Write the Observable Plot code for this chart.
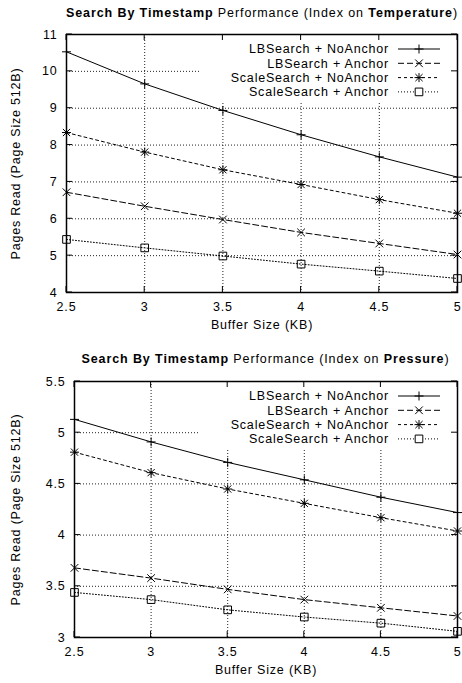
<!DOCTYPE html>
<html><head><meta charset="utf-8">
<script src="https://cdn.jsdelivr.net/npm/d3@7"></script>
<script src="https://cdn.jsdelivr.net/npm/@observablehq/plot@0.6"></script>
<style>
body{margin:0;background:#fff;font-family:"Liberation Sans",Arial,Helvetica,sans-serif;}
#wrap{position:relative;width:462px;height:683px;overflow:hidden;}
.chart{position:absolute;left:0;}
.title{position:absolute;text-align:center;font-size:12.5px;letter-spacing:0.9px;line-height:14px;color:#000;white-space:nowrap;}
</style></head><body>
<div id="wrap">
<div id="c1" class="chart" style="top:0px"></div>
<div id="c2" class="chart" style="top:340px"></div>
<div class="title" style="top:6px;left:66px;width:391px"><b>Search By Timestamp</b> Performance (Index on <b>Temperature</b>)</div>
<div class="title" style="top:352px;left:74px;width:383px"><b>Search By Timestamp</b> Performance (Index on <b>Pressure</b>)</div>
</div>
<script>
// ---- data ----
const bufferKB = [2.5, 3, 3.5, 4, 4.5, 5];
const seriesNames = ["LBSearch + NoAnchor", "LBSearch + Anchor", "ScaleSearch + NoAnchor", "ScaleSearch + Anchor"];

const tempLBNoAnchor    = [10.53, 9.66, 8.94, 8.28, 7.68, 7.13];
const tempLBAnchor      = [6.72, 6.34, 5.98, 5.63, 5.33, 5.03];
const tempScaleNoAnchor = [8.34, 7.81, 7.33, 6.93, 6.52, 6.15];
const tempScaleAnchor   = [5.44, 5.21, 4.99, 4.77, 4.58, 4.38];

const presLBNoAnchor    = [5.13, 4.91, 4.71, 4.54, 4.37, 4.22];
const presLBAnchor      = [3.68, 3.58, 3.47, 3.37, 3.29, 3.21];
const presScaleNoAnchor = [4.81, 4.61, 4.45, 4.31, 4.17, 4.04];
const presScaleAnchor   = [3.44, 3.37, 3.27, 3.20, 3.14, 3.06];

const xTicks = [2.5, 3, 3.5, 4, 4.5, 5];
const tempYTicks = [4, 5, 6, 7, 8, 9, 10, 11];
const presYTicks = [3, 3.5, 4, 4.5, 5, 5.5];

const xLabel = "Buffer Size (KB)";
const yLabel = "Pages Read (Page Size 512B)";

// ---- symbols ----
const rad = size => Math.sqrt(size / Math.PI);
const symPlus = {draw(c, s){const r = rad(s); c.moveTo(-r,0); c.lineTo(r,0); c.moveTo(0,-r); c.lineTo(0,r);}};
const symTimes = {draw(c, s){const r = rad(s)*0.85; c.moveTo(-r,-r); c.lineTo(r,r); c.moveTo(-r,r); c.lineTo(r,-r);}};
const symAst = {draw(c, s){const r = rad(s); const q = r*0.8; c.moveTo(-r,0); c.lineTo(r,0); c.moveTo(0,-r); c.lineTo(0,r); c.moveTo(-q,-q); c.lineTo(q,q); c.moveTo(-q,q); c.lineTo(q,-q);}};
const symSquare = {draw(c, s){const r = rad(s)*0.85; c.rect(-r,-r,2*r,2*r);}};

const styles = [
  {dash: null, sym: symPlus},
  {dash: "6,3", sym: symTimes},
  {dash: "3,3", sym: symAst},
  {dash: "1,2", sym: symSquare}
];
const markerR = 4.5;
const FS = 12.5;

function makeChart(series, yDomain, yTicks, marginLeft, marginTop, marginBottom, height) {
  const rows = [];
  series.forEach((vals, j) => bufferKB.forEach((x, i) => rows.push({x, y: vals[i], s: j})));

  const boxMark = (index, scales, values, dims) => {
    const right = dims.width - dims.marginRight, top = dims.marginTop;
    const g = d3.create("svg:g");
    g.append("rect").attr("x", right - 257).attr("y", top).attr("width", 257).attr("height", 67).attr("fill", "white");
    return g.node();
  };
  const tickMark = (index, scales, values, dims) => {
    const left = dims.marginLeft, right = dims.width - dims.marginRight;
    const top = dims.marginTop, bottom = dims.height - dims.marginBottom;
    const g = d3.create("svg:g").attr("stroke", "#000").attr("stroke-width", 1);
    const L = 6;
    for (const t of xTicks) {
      const x = scales.x(t);
      g.append("line").attr("x1", x).attr("x2", x).attr("y1", bottom).attr("y2", bottom - L);
      g.append("line").attr("x1", x).attr("x2", x).attr("y1", top).attr("y2", top + L);
    }
    for (const t of yTicks) {
      const y = scales.y(t);
      g.append("line").attr("y1", y).attr("y2", y).attr("x1", left).attr("x2", left + L);
      g.append("line").attr("y1", y).attr("y2", y).attr("x1", right).attr("x2", right - L);
    }
    return g.node();
  };
  const legendMark = (index, scales, values, dims) => {
    const right = dims.width - dims.marginRight, top = dims.marginTop;
    const g = d3.create("svg:g");
    seriesNames.forEach((name, j) => {
      const y = top + 15 + j * 14.3;
      g.append("text").attr("x", right - 68).attr("y", y).attr("dy", "0.35em")
        .attr("text-anchor", "end").attr("font-size", FS).attr("fill", "#000").text(name);
      const ln = g.append("line").attr("x1", right - 59).attr("x2", right - 17).attr("y1", y).attr("y2", y)
        .attr("stroke", "#000").attr("stroke-width", 1);
      if (styles[j].dash) ln.attr("stroke-dasharray", styles[j].dash);
      g.append("path").attr("transform", `translate(${right - 38},${y})`)
        .attr("d", d3.symbol(styles[j].sym, Math.PI * markerR * markerR)())
        .attr("fill", j === 3 ? "white" : "none").attr("stroke", "#000").attr("stroke-width", 1);
    });
    return g.node();
  };

  const marks = [
    Plot.gridX(xTicks, {stroke: "#222", strokeOpacity: 1, strokeDasharray: "1,2"}),
    Plot.gridY(yTicks, {stroke: "#222", strokeOpacity: 1, strokeDasharray: "1,2"}),
    boxMark,
    tickMark,
    Plot.frame({stroke: "#000", strokeWidth: 1.5})
  ];
  styles.forEach((st, j) => {
    const d = rows.filter(r => r.s === j);
    marks.push(Plot.line(d, {x: "x", y: "y", stroke: "#000", strokeWidth: 1, strokeDasharray: st.dash || undefined}));
    marks.push(Plot.dot(d, {x: "x", y: "y", symbol: st.sym, r: markerR, stroke: "#000", fill: "none", strokeWidth: 1}));
  });
  marks.push(legendMark);
  marks.push(Plot.axisX(xTicks, {tickSize: 0, tickPadding: 10, fontSize: FS, label: null, tickFormat: d => String(d)}));
  marks.push(Plot.axisY(yTicks, {tickSize: 0, tickPadding: 9, fontSize: FS, label: null, tickFormat: d => String(d)}));
  marks.push(Plot.text([xLabel], {frameAnchor: "bottom", dy: 36.5, fontSize: FS, fill: "#000", textAnchor: "middle"}));
  marks.push(Plot.text([yLabel], {frameAnchor: "left", rotate: -90, dx: 15 - marginLeft, fontSize: FS, fill: "#000", textAnchor: "middle"}));

  return Plot.plot({
    width: 462,
    height,
    marginLeft,
    marginRight: 5,
    marginTop,
    marginBottom,
    style: {fontFamily: "Liberation Sans, Arial, sans-serif", fontSize: FS + "px", letterSpacing: "0.8px", color: "#000", background: "transparent", overflow: "visible"},
    x: {domain: [2.5, 5]},
    y: {domain: yDomain},
    marks
  });
}

document.getElementById("c1").append(
  makeChart([tempLBNoAnchor, tempLBAnchor, tempScaleNoAnchor, tempScaleAnchor], [4, 11], tempYTicks, 66, 34, 48, 340)
);
document.getElementById("c2").append(
  makeChart([presLBNoAnchor, presLBAnchor, presScaleNoAnchor, presScaleAnchor], [3, 5.5], presYTicks, 74, 41, 46, 343)
);
</script>
</body></html>
